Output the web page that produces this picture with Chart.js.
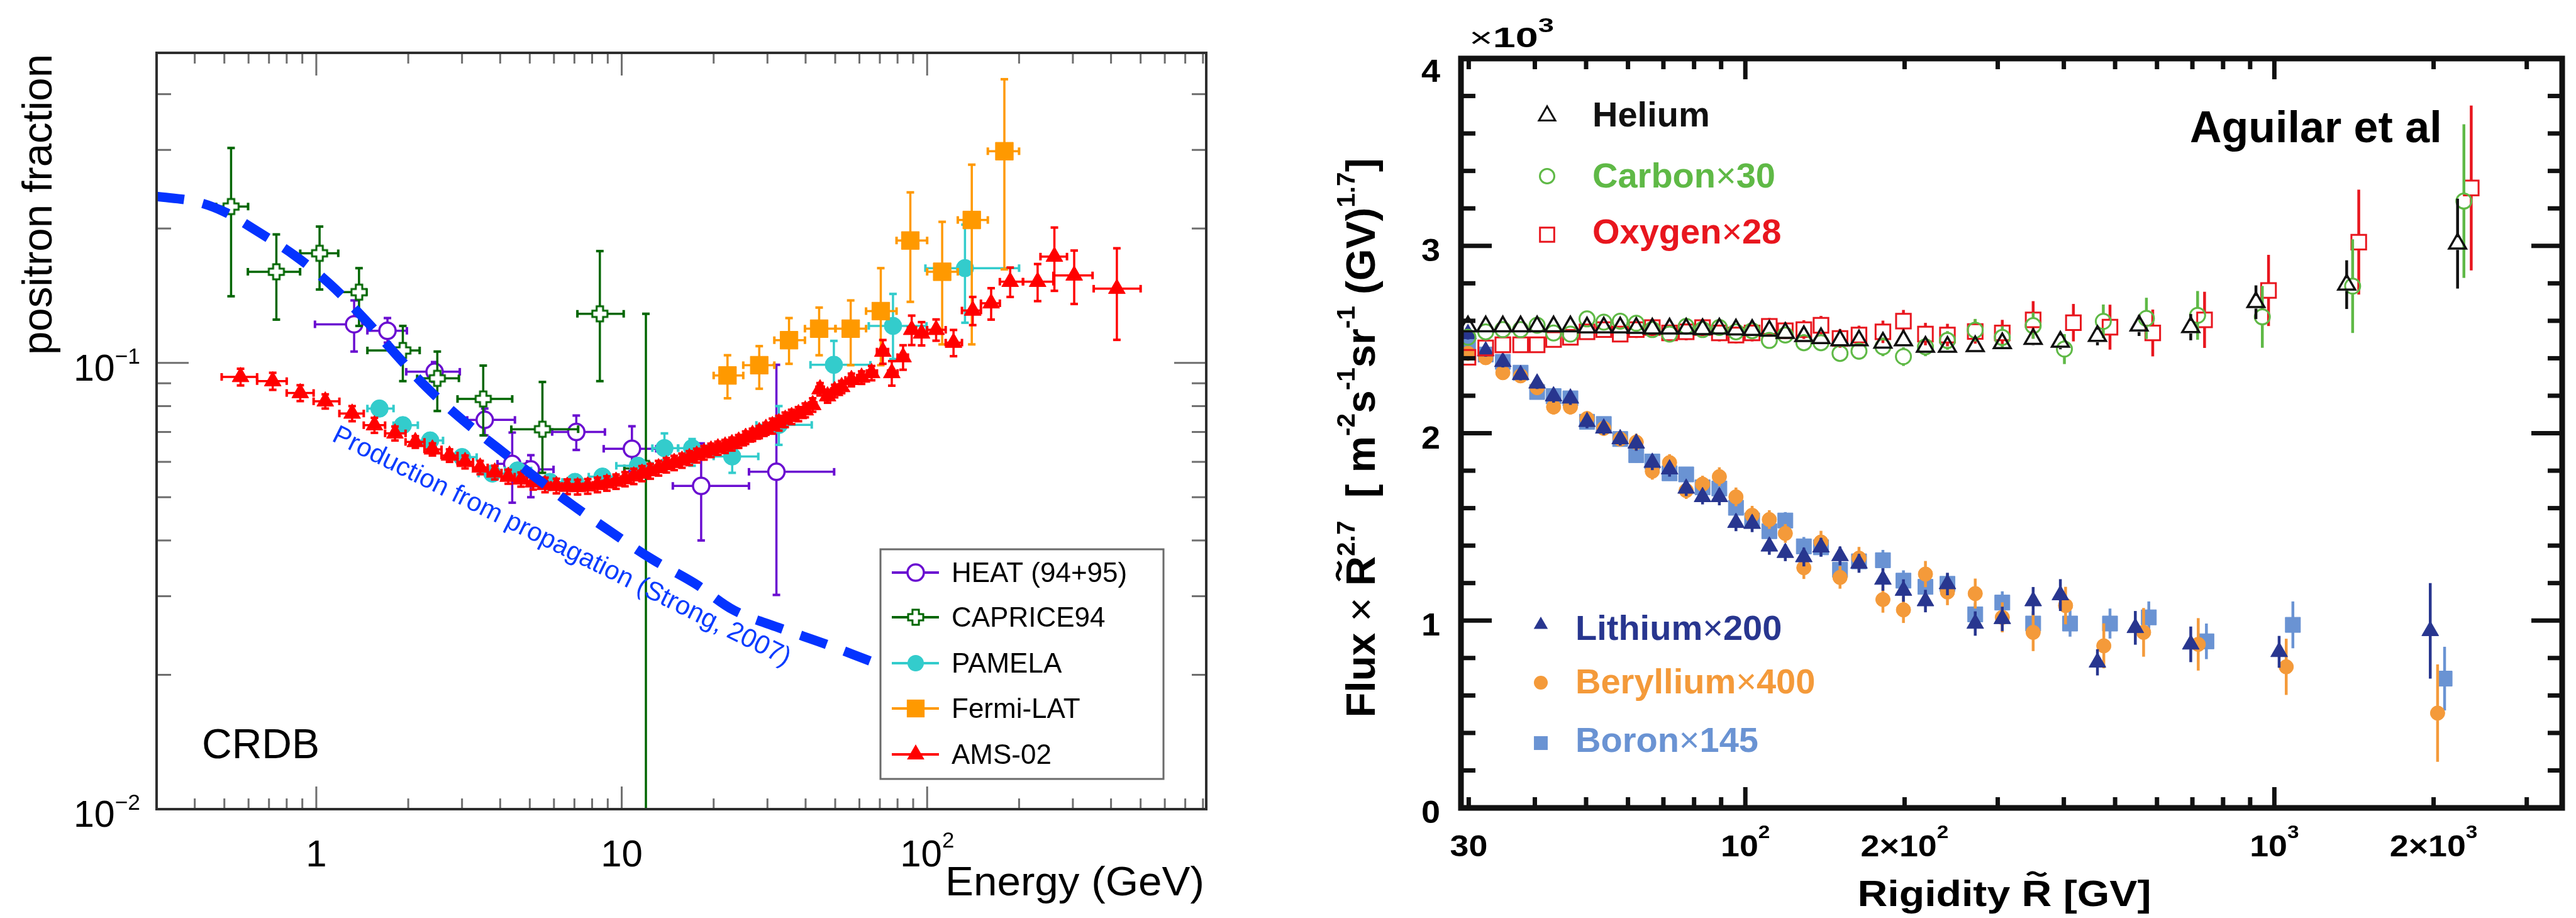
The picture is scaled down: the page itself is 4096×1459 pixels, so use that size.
<!DOCTYPE html>
<html>
<head>
<meta charset="utf-8">
<title>Positron fraction and AMS secondary/primary nuclei</title>
<script src="https://cdn.jsdelivr.net/npm/chart.js@4.4.1/dist/chart.umd.min.js"></script>
<style>
  html, body { margin: 0; padding: 0; background: #fff; }
  #wrap { position: relative; width: 4096px; height: 1459px; overflow: hidden; background: #fff; }
  #wrap canvas { position: absolute; top: 0; }
  #left { left: 0; }
  #right { left: 2048px; }
</style>
</head>
<body>
<div id="wrap">
  <canvas id="left" width="2048" height="1459"></canvas>
  <canvas id="right" width="2048" height="1459"></canvas>
</div>
<script>
// ---------- left panel: positron fraction ----------
const heatX = [1.33, 1.71, 2.44, 3.56, 4.38, 5.04, 7.1, 10.8, 18.2, 32.1];
const heatY = [0.122, 0.118, 0.0955, 0.0745, 0.0594, 0.0577, 0.070, 0.0642, 0.053, 0.057];
const heatXLo = [0.99, 1.47, 1.97, 3.12, 3.92, 4.73, 5.92, 8.73, 14.7, 26.1];
const heatXHi = [1.47, 1.98, 2.95, 4.47, 4.9, 5.98, 8.81, 12.97, 26.1, 49.6];
const heatYLo = [0.106, 0.111, 0.0907, 0.0688, 0.0486, 0.050, 0.0638, 0.0572, 0.040, 0.0302];
const heatYHi = [0.138, 0.126, 0.1004, 0.079, 0.0698, 0.0621, 0.0762, 0.0721, 0.066, 0.099];

const capX = [0.526, 0.74, 1.025, 1.38, 1.92, 2.49, 3.52, 5.5, 8.48, 12.0];
const capY = [0.224, 0.160, 0.176, 0.144, 0.1066, 0.0923, 0.083, 0.071, 0.1288, 0.058];
const capXLo = [0.47, 0.597, 0.886, 1.18, 1.47, 2.14, 2.9, 4.35, 7.16, 10.2];
const capXHi = [0.598, 0.885, 1.18, 1.46, 2.18, 2.93, 4.38, 7.2, 10.15, 14.0];
const capYLo = [0.141, 0.125, 0.146, 0.121, 0.091, 0.078, 0.0688, 0.0567, 0.091, 0.005];
const capYHi = [0.303, 0.194, 0.202, 0.163, 0.121, 0.106, 0.0986, 0.0906, 0.178, 0.1288];

const pamX = [1.61, 1.92, 2.36, 3.0, 3.77, 4.56, 5.82, 7.03, 8.65, 11.3, 13.8, 17.0, 23.0, 32.7, 49.5, 77.3, 133];
const pamY = [0.079, 0.0725, 0.067, 0.0615, 0.0565, 0.0574, 0.0541, 0.0541, 0.0556, 0.0588, 0.0644, 0.0644, 0.0617, 0.0726, 0.099, 0.121, 0.163];
const pamXLo = [1.47, 1.79, 2.15, 2.7, 3.4, 4.15, 5.1, 6.4, 7.8, 9.6, 12.6, 15.3, 20.0, 27.6, 41.5, 64.4, 98.7];
const pamXHi = [1.79, 2.15, 2.6, 3.35, 4.15, 5.05, 6.4, 7.8, 9.6, 12.6, 15.3, 19.0, 28.0, 41.9, 65.2, 99.5, 200];
const pamYLo = [0.077, 0.0705, 0.065, 0.0597, 0.0548, 0.0555, 0.0522, 0.0522, 0.0535, 0.0567, 0.0605, 0.0588, 0.0567, 0.0655, 0.0873, 0.102, 0.123];
const pamYHi = [0.081, 0.0745, 0.069, 0.0633, 0.0582, 0.0593, 0.056, 0.056, 0.0577, 0.0605, 0.0695, 0.0675, 0.067, 0.080, 0.112, 0.1427, 0.204];

const fermiX = [22.2, 28.2, 35.3, 44.3, 56.2, 70.5, 88.1, 112, 140, 179];
const fermiY = [0.0937, 0.0988, 0.1124, 0.1193, 0.1193, 0.1306, 0.188, 0.160, 0.209, 0.298];
const fermiXLo = [20, 25, 31.6, 39.8, 50.1, 63.1, 79.4, 100, 126, 158];
const fermiXHi = [25, 31.6, 39.8, 50.1, 63.1, 79.4, 100, 126, 158, 200];
const fermiYLo = [0.0833, 0.0875, 0.0995, 0.104, 0.0988, 0.0988, 0.137, 0.110, 0.110, 0.162];
const fermiYHi = [0.104, 0.109, 0.126, 0.133, 0.138, 0.163, 0.241, 0.207, 0.278, 0.432];

const amsX = [0.565, 0.72, 0.886, 1.07, 1.31, 1.55, 1.81, 2.11, 2.40, 2.73, 3.07, 3.44, 3.84, 4.25, 4.68, 5.13, 5.61, 6.11, 6.63, 7.17,
  7.74, 8.33, 8.94, 9.58, 10.25, 10.95, 11.65, 12.4, 13.2, 14.0, 14.85, 15.75, 16.65, 17.6, 18.6, 19.6, 20.65, 21.8, 22.95, 24.15,
  25.45, 26.8, 28.2, 29.65, 31.15, 32.7, 34.3, 36.0, 37.9, 39.9, 42.2, 44.6, 47.2, 49.8, 52.5, 56.5, 61.0, 65.8, 71.6, 76.6,
  83.4, 89, 95.9, 107, 122, 141, 162, 187, 230, 261, 303, 418];
const amsY = [0.093, 0.091, 0.0856, 0.082, 0.077, 0.0725, 0.0695, 0.0665, 0.064, 0.062, 0.060, 0.0583, 0.0568, 0.0556, 0.0548, 0.054, 0.0533, 0.053, 0.0528, 0.0527,
  0.0529, 0.0533, 0.0537, 0.0542, 0.0549, 0.0557, 0.0565, 0.0572, 0.0581, 0.059, 0.0597, 0.0604, 0.0612, 0.062, 0.0629, 0.0637, 0.0644, 0.065, 0.0658, 0.0667,
  0.068, 0.069, 0.070, 0.0712, 0.0722, 0.0733, 0.0746, 0.0757, 0.0768, 0.0783, 0.0805, 0.0873, 0.0842, 0.0865, 0.0883, 0.0916, 0.0927, 0.0949, 0.106, 0.0949,
  0.103, 0.1186, 0.1164, 0.1186, 0.111, 0.131, 0.136, 0.152, 0.152, 0.173, 0.157, 0.1466];
const amsXLo = [0.49, 0.64, 0.80, 0.98, 1.19, 1.43, 1.68, 1.96, 2.26, 2.57, 2.90, 3.26, 3.64, 4.04, 4.46, 4.90, 5.37, 5.86, 6.37, 6.90,
  7.45, 8.03, 8.63, 9.26, 9.91, 10.6, 11.3, 12.0, 12.8, 13.6, 14.4, 15.3, 16.2, 17.1, 18.1, 19.1, 20.1, 21.2, 22.4, 23.5,
  24.8, 26.1, 27.5, 28.9, 30.4, 31.9, 33.5, 35.1, 36.9, 38.9, 41.0, 43.4, 45.9, 48.5, 51.1, 54.0, 59.0, 63.5, 68.5, 74.5,
  80.0, 86.5, 92.0, 100, 115, 130, 150, 173, 206, 235, 259, 351];
const amsXHi = [0.64, 0.80, 0.98, 1.19, 1.43, 1.68, 1.96, 2.26, 2.57, 2.90, 3.26, 3.64, 4.04, 4.46, 4.90, 5.37, 5.86, 6.37, 6.90, 7.45,
  8.03, 8.63, 9.26, 9.91, 10.6, 11.3, 12.0, 12.8, 13.6, 14.4, 15.3, 16.2, 17.1, 18.1, 19.1, 20.1, 21.2, 22.4, 23.5, 24.8,
  26.1, 27.5, 28.9, 30.4, 31.9, 33.5, 35.1, 36.9, 38.9, 41.0, 43.4, 45.9, 48.5, 51.1, 54.0, 59.0, 63.5, 68.5, 74.5, 80.0,
  86.5, 92.0, 100, 115, 130, 150, 173, 206, 259, 287, 348, 500];
const amsYErr = [0.004, 0.004, 0.0035, 0.003, 0.003, 0.0028, 0.0025,
  0.002, 0.002, 0.002, 0.002, 0.002, 0.002, 0.002, 0.002, 0.002, 0.002, 0.002, 0.002, 0.002, 0.002, 0.002, 0.002, 0.002, 0.002,
  0.0022, 0.0022, 0.0022, 0.0022, 0.0022, 0.0022, 0.0022, 0.0022, 0.0022, 0.0022, 0.0022, 0.0022, 0.0022, 0.0022, 0.0022, 0.0022, 0.0022, 0.0022, 0.0022,
  0.0028, 0.0028, 0.0028, 0.0028, 0.0028, 0.0028, 0.0028, 0.0028, 0.0028, 0.0028, 0.0028,
  0.003, 0.003, 0.0035, 0.0065, 0.006, 0.0065, 0.009, 0.007, 0.0065, 0.0075, 0.0095, 0.011, 0.0115, 0.0145, 0.028, 0.0215, 0.034];

// propagation model (Strong, 2007)
const curveX = [0.3, 0.4, 0.5, 0.62, 0.85, 1.11, 1.46, 1.81, 2.29, 2.97, 3.92, 5.2, 6.9, 9.23, 12.5, 17.4, 23.3, 32.7, 46.8, 69.5];
const curveY = [0.236, 0.23, 0.218, 0.20, 0.174, 0.150, 0.124, 0.105, 0.0883, 0.0751, 0.0645, 0.0555, 0.048, 0.0418, 0.0364, 0.032, 0.0279, 0.0255, 0.0234, 0.0211];

const energyTicks = [1, 10, 100];
const energyTickText = ['1', '10', '10^2'];
const fracTicks = [0.01, 0.1];
const fracTickText = ['10^-2', '10^-1'];

// ---------- right panel: AMS fluxes x R^2.7 (x10^3) ----------
const rigBins = [29.9, 32.3, 34.8, 37.6, 40.4, 43.4, 46.7, 50.2, 54.0, 58.0, 62.2, 66.7, 71.9, 77.3, 83.0, 89.3, 96.0, 103, 111, 119,
  129, 139, 151, 164, 182, 199, 219, 241];

const heX = rigBins.concat([272, 306, 350, 394, 463, 555, 695, 923, 1370, 2220]);
const heY = [2.570, 2.570, 2.570, 2.570, 2.570, 2.570, 2.570, 2.564, 2.564, 2.564, 2.562, 2.558, 2.558, 2.558, 2.555, 2.558, 2.553, 2.551, 2.547, 2.535,
  2.518, 2.507, 2.495, 2.495, 2.483, 2.495, 2.461, 2.461, 2.464, 2.480, 2.503, 2.488, 2.519, 2.574, 2.566, 2.699, 2.793, 3.012];
const heErr = [0.015, 0.015, 0.015, 0.015, 0.015, 0.015, 0.015, 0.015, 0.015, 0.015, 0.015, 0.015, 0.015, 0.015, 0.015, 0.015, 0.015, 0.015, 0.015, 0.015,
  0.018, 0.018, 0.02, 0.02, 0.022, 0.022, 0.025, 0.025, 0.028, 0.03, 0.035, 0.04, 0.05, 0.055, 0.07, 0.09, 0.13, 0.24];

const cX = rigBins.concat([272, 306, 350, 401, 475, 573, 716, 949, 1406, 2282]);
const cY = [2.512, 2.541, 2.553, 2.553, 2.576, 2.535, 2.529, 2.610, 2.593, 2.598, 2.587, 2.553, 2.529, 2.570, 2.553, 2.564, 2.541, 2.547, 2.495, 2.524,
  2.483, 2.483, 2.426, 2.438, 2.461, 2.409, 2.461, 2.495, 2.550, 2.511, 2.574, 2.449, 2.597, 2.613, 2.629, 2.621, 2.785, 3.239];
const cErr = [0.035, 0.035, 0.035, 0.035, 0.035, 0.035, 0.035, 0.035, 0.035, 0.035, 0.04, 0.04, 0.04, 0.04, 0.04, 0.04, 0.04, 0.04, 0.04, 0.04,
  0.045, 0.045, 0.045, 0.045, 0.05, 0.05, 0.05, 0.05, 0.06, 0.06, 0.07, 0.08, 0.09, 0.11, 0.13, 0.165, 0.25, 0.41];

const oX = rigBins.concat([272, 306, 350, 417, 489, 589, 738, 975, 1444, 2356]);
const oY = [2.405, 2.455, 2.472, 2.472, 2.472, 2.500, 2.512, 2.541, 2.553, 2.529, 2.553, 2.564, 2.535, 2.541, 2.564, 2.535, 2.524, 2.535, 2.570, 2.547,
  2.553, 2.576, 2.506, 2.524, 2.541, 2.598, 2.529, 2.524, 2.543, 2.535, 2.605, 2.590, 2.566, 2.535, 2.605, 2.762, 3.020, 3.309];
const oErr = [0.04, 0.04, 0.04, 0.04, 0.04, 0.04, 0.04, 0.04, 0.04, 0.04, 0.045, 0.045, 0.045, 0.045, 0.045, 0.045, 0.045, 0.045, 0.045, 0.045,
  0.05, 0.05, 0.05, 0.05, 0.06, 0.06, 0.06, 0.06, 0.065, 0.07, 0.1, 0.1, 0.12, 0.125, 0.15, 0.19, 0.28, 0.44];

const liX = rigBins.concat([272, 306, 350, 394, 463, 546, 695, 1021, 1971]);
const liY = [2.530, 2.438, 2.381, 2.312, 2.266, 2.198, 2.186, 2.061, 2.026, 1.969, 1.946, 1.843, 1.808, 1.705, 1.660, 1.660, 1.522, 1.517, 1.396, 1.362,
  1.339, 1.391, 1.345, 1.305, 1.219, 1.160, 1.104, 1.195, 0.984, 1.009, 1.104, 1.136, 0.777, 0.961, 0.873, 0.833, 0.945];
const liErr = [0.03, 0.03, 0.03, 0.03, 0.03, 0.035, 0.035, 0.035, 0.035, 0.035, 0.04, 0.04, 0.04, 0.04, 0.04, 0.045, 0.045, 0.045, 0.045, 0.045,
  0.05, 0.05, 0.05, 0.05, 0.06, 0.06, 0.06, 0.06, 0.065, 0.065, 0.075, 0.085, 0.07, 0.09, 0.095, 0.085, 0.255];

const beX = rigBins.concat([272, 306, 350, 403, 476, 566, 718, 1053, 2035]);
const beY = [2.426, 2.403, 2.323, 2.306, 2.243, 2.140, 2.140, 2.078, 2.026, 1.969, 1.952, 1.797, 1.843, 1.694, 1.728, 1.768, 1.660, 1.562, 1.539, 1.465,
  1.282, 1.419, 1.230, 1.333, 1.112, 1.057, 1.248, 1.152, 1.144, 1.017, 0.937, 1.080, 0.865, 0.937, 0.873, 0.753, 0.506];
const beErr = [0.035, 0.035, 0.035, 0.035, 0.035, 0.04, 0.04, 0.04, 0.04, 0.04, 0.045, 0.045, 0.045, 0.045, 0.045, 0.05, 0.05, 0.05, 0.05, 0.05,
  0.06, 0.06, 0.06, 0.06, 0.07, 0.07, 0.07, 0.07, 0.08, 0.08, 0.1, 0.1, 0.12, 0.13, 0.14, 0.15, 0.26];

const bX = rigBins.concat([272, 306, 350, 411, 489, 579, 744, 1084, 2098]);
const bY = [2.472, 2.420, 2.381, 2.323, 2.220, 2.198, 2.186, 2.061, 2.049, 1.969, 1.883, 1.849, 1.786, 1.780, 1.711, 1.705, 1.602, 1.534, 1.477, 1.534,
  1.396, 1.391, 1.271, 1.316, 1.322, 1.213, 1.180, 1.196, 1.033, 1.096, 0.984, 0.984, 0.984, 1.017, 0.889, 0.977, 0.690];
const bErr = [0.03, 0.03, 0.03, 0.03, 0.03, 0.035, 0.035, 0.035, 0.035, 0.035, 0.04, 0.04, 0.04, 0.04, 0.04, 0.045, 0.045, 0.045, 0.045, 0.045,
  0.05, 0.05, 0.05, 0.05, 0.055, 0.055, 0.055, 0.055, 0.06, 0.06, 0.065, 0.07, 0.08, 0.085, 0.095, 0.125, 0.17];

const rigTicks = [30, 100, 200, 1000, 2000];
const rigTickText = ['30', '10^2', '2×10^2', '10^3', '2×10^3'];
const fluxTicks = [0, 1, 2, 3, 4];
const fluxTickText = ['0', '1', '2', '3', '4'];

// ---------- helpers ----------
const FONT = '"Liberation Sans", Arial, Helvetica, sans-serif';

function pts(xs, ys, xl, xh, yl, yh) {
  return xs.map((x, i) => ({ x, y: ys[i], xl: xl ? xl[i] : null, xh: xh ? xh[i] : null, yl: yl ? yl[i] : null, yh: yh ? yh[i] : null }));
}
function ptsSym(xs, ys, err, xl, xh) {
  return xs.map((x, i) => ({ x, y: ys[i], xl: xl ? xl[i] : null, xh: xh ? xh[i] : null, yl: ys[i] - err[i], yh: ys[i] + err[i] }));
}

function parseLabel(s) {
  const i = s.indexOf('^');
  if (i < 0) return [s];
  return [s.slice(0, i), { t: s.slice(i + 1).replace('-', '\u2212'), sup: true }];
}

// text with superscripts / tilde accents, optionally rotated and stretched
function rich(ctx, parts, x, y, o) {
  const size = o.size, weight = o.weight || 'normal';
  const supK = o.supScale || 0.6, raise = o.supRaise || 0.45;
  const segs = parts.map(p => (typeof p === 'string' ? { t: p } : Object.assign({}, p)));
  const fontOf = s => `${s.w || weight} ${(s.sup ? size * supK : size).toFixed(1)}px ${FONT}`;
  ctx.save();
  let total = 0;
  segs.forEach(s => { ctx.font = fontOf(s); s.width = ctx.measureText(s.t).width; total += s.width; });
  ctx.translate(x, y);
  if (o.rot) ctx.rotate(o.rot);
  const sx = o.fitW ? o.fitW / total : (o.sx || 1);
  ctx.scale(sx, o.sy || 1);
  let cx = o.align === 'center' ? -total / 2 : o.align === 'right' ? -total : 0;
  ctx.fillStyle = o.color || '#000';
  ctx.strokeStyle = o.color || '#000';
  ctx.textAlign = 'left';
  ctx.textBaseline = 'alphabetic';
  segs.forEach(s => {
    ctx.font = fontOf(s);
    ctx.fillText(s.t, cx, s.sup ? -size * raise : 0);
    if (s.tilde) {
      const tw = s.width * 0.62, x0 = cx + (s.width - tw) / 2, ty = -size * 0.88, a = size * 0.05;
      ctx.lineWidth = size * 0.075;
      ctx.beginPath();
      ctx.moveTo(x0, ty + a * 0.6);
      ctx.quadraticCurveTo(x0 + tw * 0.25, ty - a * 1.8, x0 + tw * 0.5, ty);
      ctx.quadraticCurveTo(x0 + tw * 0.75, ty + a * 1.8, x0 + tw, ty - a * 0.6);
      ctx.stroke();
    }
    cx += s.width;
  });
  ctx.restore();
}

function seg(ctx, x1, y1, x2, y2) {
  ctx.beginPath(); ctx.moveTo(x1, y1); ctx.lineTo(x2, y2); ctx.stroke();
}

function logTicks(min, max) {
  const out = [];
  for (let e = Math.floor(Math.log10(min)); e <= Math.ceil(Math.log10(max)); e++) {
    for (let k = 1; k <= 9; k++) {
      const v = k * Math.pow(10, e);
      if (v > min * 1.001 && v < max * 0.999) out.push({ v, major: k === 1 });
    }
  }
  return out;
}

function crossMarker(size, color, lw) {
  const c = document.createElement('canvas');
  c.width = c.height = size;
  const g = c.getContext('2d');
  const a = size / 2, t = size * 0.17, m = size / 2 - lw;
  g.beginPath();
  g.moveTo(a - t, a - m); g.lineTo(a + t, a - m); g.lineTo(a + t, a - t); g.lineTo(a + m, a - t);
  g.lineTo(a + m, a + t); g.lineTo(a + t, a + t); g.lineTo(a + t, a + m); g.lineTo(a - t, a + m);
  g.lineTo(a - t, a + t); g.lineTo(a - m, a + t); g.lineTo(a - m, a - t); g.lineTo(a - t, a - t);
  g.closePath();
  g.fillStyle = '#fff'; g.fill();
  g.strokeStyle = color; g.lineWidth = lw; g.stroke();
  return c;
}

function drawMarker(ctx, style, x, y, r, fill, stroke, lw) {
  if (typeof style === 'object') { ctx.drawImage(style, x - style.width / 2, y - style.height / 2); return; }
  ctx.beginPath();
  if (style === 'circle') ctx.arc(x, y, r, 0, Math.PI * 2);
  else if (style === 'triangle') { ctx.moveTo(x, y - r); ctx.lineTo(x + r * 0.866, y + r * 0.5); ctx.lineTo(x - r * 0.866, y + r * 0.5); ctx.closePath(); }
  else if (style === 'rect') { const s = r * Math.SQRT1_2; ctx.rect(x - s, y - s, 2 * s, 2 * s); }
  if (fill) { ctx.fillStyle = fill; ctx.fill(); }
  if (stroke && lw) { ctx.strokeStyle = stroke; ctx.lineWidth = lw; ctx.stroke(); }
}

// error bars drawn just before each dataset's markers
const errorBars = {
  id: 'errorBars',
  beforeDatasetDraw(chart, args) {
    const ds = chart.data.datasets[args.index];
    if (!ds.err) return;
    const { ctx, chartArea: a } = chart;
    const xs = chart.scales.x, ys = chart.scales.y, e = ds.err;
    ctx.save();
    ctx.beginPath(); ctx.rect(a.left, a.top, a.right - a.left, a.bottom - a.top); ctx.clip();
    ctx.strokeStyle = e.color; ctx.lineCap = 'butt';
    ds.data.forEach(p => {
      const px = xs.getPixelForValue(p.x), py = ys.getPixelForValue(p.y);
      const g = e.gap || 0, c = e.cap || 0;
      ctx.lineWidth = e.width;
      if (p.xl != null) {
        const l = xs.getPixelForValue(p.xl), r = xs.getPixelForValue(p.xh);
        if (l < px - g) seg(ctx, l, py, px - g, py);
        if (r > px + g) seg(ctx, px + g, py, r, py);
        if (c) { ctx.lineWidth = e.capWidth; seg(ctx, l, py - c, l, py + c); seg(ctx, r, py - c, r, py + c); ctx.lineWidth = e.width; }
      }
      if (p.yl != null) {
        const t = ys.getPixelForValue(p.yh), b = ys.getPixelForValue(p.yl);
        if (t < py - g) seg(ctx, px, t, px, py - g);
        if (b > py + g) seg(ctx, px, py + g, px, b);
        if (c) { ctx.lineWidth = e.capWidth; seg(ctx, px - c, t, px + c, t); seg(ctx, px - c, b, px + c, b); }
      }
    });
    ctx.restore();
  }
};

// ---------- left chart ----------
const C_HEAT = '#6a0dd1', C_CAP = '#006600', C_PAM = '#33cccc', C_FERMI = '#ff9900', C_AMS = '#ff0000', C_CURVE = '#0433ff';
const capMarker = crossMarker(30, C_CAP, 3);
const curveLabel = 'Production from propagation (Strong, 2007)';
const curveLabelFrom = [1.116, 0.067];
const curveLabelTo = [34.4, 0.0209];

const leftSets = [
  { type: 'line', label: curveLabel, data: pts(curveX, curveY), borderColor: C_CURVE, borderWidth: 15,
    borderDash: [44, 30], borderCapStyle: 'butt', pointRadius: 0, tension: 0.35, fill: false },
  { label: 'AMS-02', data: ptsSym(amsX, amsY, amsYErr, amsXLo, amsXHi), pointStyle: 'triangle', pointRadius: 15.5,
    backgroundColor: C_AMS, borderColor: C_AMS, borderWidth: 1, err: { color: C_AMS, width: 3.5, cap: 6, capWidth: 4 } },
  { label: 'Fermi-LAT', data: pts(fermiX, fermiY, fermiXLo, fermiXHi, fermiYLo, fermiYHi), pointStyle: 'rect', pointRadius: 20,
    backgroundColor: C_FERMI, borderColor: C_FERMI, borderWidth: 1, err: { color: C_FERMI, width: 3.5, cap: 6, capWidth: 4 } },
  { label: 'PAMELA', data: pts(pamX, pamY, pamXLo, pamXHi, pamYLo, pamYHi), pointStyle: 'circle', pointRadius: 14,
    backgroundColor: C_PAM, borderColor: C_PAM, borderWidth: 1, err: { color: C_PAM, width: 3.5, cap: 6, capWidth: 4 } },
  { label: 'CAPRICE94', data: pts(capX, capY, capXLo, capXHi, capYLo, capYHi), pointStyle: capMarker, pointRadius: 14,
    backgroundColor: '#fff', borderColor: C_CAP, borderWidth: 0, err: { color: C_CAP, width: 3.5, cap: 6, capWidth: 4 } },
  { label: 'HEAT (94+95)', data: pts(heatX, heatY, heatXLo, heatXHi, heatYLo, heatYHi), pointStyle: 'circle', pointRadius: 13,
    backgroundColor: '#fff', borderColor: C_HEAT, borderWidth: 3.5, err: { color: C_HEAT, width: 3.5, cap: 6, capWidth: 4 } }
];

const leftLegend = [
  { name: 'HEAT (94+95)', style: 'circle', r: 13, fill: '#fff', stroke: C_HEAT, lw: 3.5, color: C_HEAT },
  { name: 'CAPRICE94', style: capMarker, color: C_CAP },
  { name: 'PAMELA', style: 'circle', r: 13, fill: C_PAM, color: C_PAM },
  { name: 'Fermi-LAT', style: 'rect', r: 20, fill: C_FERMI, color: C_FERMI },
  { name: 'AMS-02', style: 'triangle', r: 16, fill: C_AMS, color: C_AMS }
];

const leftDecor = {
  id: 'leftDecor',
  afterDatasetsDraw(chart) {
    const { ctx, scales: { x, y } } = chart;
    const x1 = x.getPixelForValue(curveLabelFrom[0]), y1 = y.getPixelForValue(curveLabelFrom[1]);
    const x2 = x.getPixelForValue(curveLabelTo[0]), y2 = y.getPixelForValue(curveLabelTo[1]);
    rich(ctx, [curveLabel], x1, y1, { size: 42, color: '#0a3cff', rot: Math.atan2(y2 - y1, x2 - x1), fitW: Math.hypot(x2 - x1, y2 - y1) });
  },
  afterDraw(chart) {
    const { ctx, chartArea: a, scales: { x, y } } = chart;
    ctx.save();
    ctx.lineCap = 'butt';
    ctx.strokeStyle = '#6e6e6e';
    ctx.lineWidth = 3;
    logTicks(x.min, x.max).forEach(t => {
      const px = x.getPixelForValue(t.v), L = t.major ? 36 : 17;
      seg(ctx, px, a.bottom, px, a.bottom - L);
      seg(ctx, px, a.top, px, a.top + L);
    });
    logTicks(y.min, y.max).forEach(t => {
      const py = y.getPixelForValue(t.v), L = t.major ? 51 : 23;
      seg(ctx, a.left, py, a.left + L, py);
      seg(ctx, a.right, py, a.right - L, py);
    });
    ctx.strokeStyle = '#2e2e2e';
    ctx.lineWidth = 4;
    ctx.strokeRect(a.left, a.top, a.right - a.left, a.bottom - a.top);

    energyTicks.forEach((v, i) => {
      rich(ctx, parseLabel(energyTickText[i]), x.getPixelForValue(v), a.bottom + 91,
        { size: 60, align: 'center', supScale: 0.58, supRaise: 0.5, color: '#000' });
    });
    fracTicks.forEach((v, i) => {
      rich(ctx, parseLabel(fracTickText[i]), a.left - 26, y.getPixelForValue(v) + 28,
        { size: 59, align: 'right', supScale: 0.6, supRaise: 0.45, color: '#000' });
    });
    rich(ctx, ['positron fraction'], 82, a.top + 2, { size: 66, align: 'right', rot: -Math.PI / 2, fitW: 478 });
    rich(ctx, ['Energy (GeV)'], 1915, 1423, { size: 64, align: 'right', fitW: 412 });
    rich(ctx, ['CRDB'], 321, 1205, { size: 66 });

    // legend box
    const bx = 1400, by = 873, bw = 450, bh = 365;
    ctx.fillStyle = '#fff';
    ctx.fillRect(bx, by, bw, bh);
    ctx.strokeStyle = '#6a6a6a';
    ctx.lineWidth = 3;
    ctx.strokeRect(bx, by, bw, bh);
    const rows = [910, 981, 1054, 1126, 1199];
    leftLegend.forEach((it, i) => {
      const ry = rows[i];
      ctx.strokeStyle = it.color;
      ctx.lineWidth = 4;
      seg(ctx, 1418, ry, 1493, ry);
      drawMarker(ctx, it.style, 1456, ry, it.r, it.fill, it.stroke, it.lw);
      rich(ctx, [it.name], 1513, ry + 15, { size: 44 });
    });
    ctx.restore();
  }
};

new Chart(document.getElementById('left'), {
  type: 'scatter',
  data: { datasets: leftSets },
  options: {
    responsive: false,
    animation: false,
    devicePixelRatio: 1,
    events: [],
    layout: { padding: { left: 249, right: 130, top: 84, bottom: 173 } },
    plugins: { legend: { display: false }, tooltip: { enabled: false } },
    scales: {
      x: { type: 'logarithmic', min: 0.3, max: 820, display: false },
      y: { type: 'logarithmic', min: 0.01, max: 0.495, display: false }
    }
  },
  plugins: [errorBars, leftDecor]
});

// ---------- right chart ----------
const C_HE = '#111111', C_C = '#5fb946', C_O = '#e8161e', C_LI = '#28368f', C_BE = '#f49a3a', C_B = '#6a93d3';
const NONE = 'rgba(0,0,0,0)';

const rightSets = [
  { label: 'Helium', data: ptsSym(heX, heY, heErr), pointStyle: 'triangle', pointRadius: 15.5, backgroundColor: NONE,
    borderColor: C_HE, borderWidth: 3.5, err: { color: C_HE, width: 4.5, gap: 10 } },
  { label: 'Carbon×30', data: ptsSym(cX, cY, cErr), pointStyle: 'circle', pointRadius: 12, backgroundColor: NONE,
    borderColor: C_C, borderWidth: 3, err: { color: C_C, width: 4.5, gap: 11 } },
  { label: 'Oxygen×28', data: ptsSym(oX, oY, oErr), pointStyle: 'rect', pointRadius: 16.5, backgroundColor: NONE,
    borderColor: C_O, borderWidth: 3, err: { color: C_O, width: 4.5, gap: 11 } },
  { label: 'Lithium×200', data: ptsSym(liX, liY, liErr), pointStyle: 'triangle', pointRadius: 15.5, backgroundColor: C_LI,
    borderColor: C_LI, borderWidth: 1, err: { color: C_LI, width: 4.5 } },
  { label: 'Beryllium×400', data: ptsSym(beX, beY, beErr), pointStyle: 'circle', pointRadius: 11.5, backgroundColor: C_BE,
    borderColor: C_BE, borderWidth: 1, err: { color: C_BE, width: 4.5 } },
  { label: 'Boron×145', data: ptsSym(bX, bY, bErr), pointStyle: 'rect', pointRadius: 17, backgroundColor: C_B,
    borderColor: C_B, borderWidth: 1, err: { color: C_B, width: 4.5 } }
];

const rightLegend = [
  { parts: ['Helium'], color: C_HE, style: 'triangle', r: 15, fill: null, stroke: C_HE, lw: 3, mx: 412, my: 184, tx: 484, ty: 201 },
  { parts: ['Carbon', { t: '×', w: 'normal' }, '30'], color: C_C, style: 'circle', r: 11.5, fill: null, stroke: C_C, lw: 3, mx: 412, my: 280, tx: 484, ty: 298 },
  { parts: ['Oxygen', { t: '×', w: 'normal' }, '28'], color: C_O, style: 'rect', r: 16, fill: null, stroke: C_O, lw: 3, mx: 412, my: 373, tx: 484, ty: 387 },
  { parts: ['Lithium', { t: '×', w: 'normal' }, '200'], color: C_LI, style: 'triangle', r: 13, fill: C_LI, mx: 402, my: 993, tx: 457, ty: 1017 },
  { parts: ['Beryllium', { t: '×', w: 'normal' }, '400'], color: C_BE, style: 'circle', r: 11, fill: C_BE, mx: 402, my: 1085, tx: 457, ty: 1102 },
  { parts: ['Boron', { t: '×', w: 'normal' }, '145'], color: C_B, style: 'rect', r: 15.5, fill: C_B, mx: 402, my: 1181, tx: 457, ty: 1195 }
];

const rightDecor = {
  id: 'rightDecor',
  afterDraw(chart) {
    const { ctx, chartArea: a, scales: { x, y } } = chart;
    ctx.save();
    ctx.lineCap = 'butt';
    ctx.strokeStyle = '#111';
    ctx.lineWidth = 7;
    logTicks(x.min, x.max).forEach(t => {
      const px = x.getPixelForValue(t.v), L = t.major ? 33 : 17;
      seg(ctx, px, a.bottom, px, a.bottom - L);
      seg(ctx, px, a.top, px, a.top + L);
    });
    for (let i = 1; i < 20; i++) {
      const v = i * 0.2, py = y.getPixelForValue(v), L = i % 5 === 0 ? 49 : 23;
      seg(ctx, a.left, py, a.left + L, py);
      seg(ctx, a.right, py, a.right - L, py);
    }
    ctx.lineWidth = 9;
    ctx.lineJoin = 'miter';
    ctx.strokeRect(a.left, a.top, a.right - a.left, a.bottom - a.top);

    rigTicks.forEach((v, i) => {
      rich(ctx, parseLabel(rigTickText[i]), x.getPixelForValue(v), 1361,
        { size: 48, weight: 'bold', align: 'center', sx: 1.12, supScale: 0.62, supRaise: 0.6 });
    });
    fluxTicks.forEach((v, i) => {
      const base = Math.max(y.getPixelForValue(v) + 24, a.top + 37);
      rich(ctx, [fluxTickText[i]], a.left - 33, base, { size: 50, weight: 'bold', align: 'right', sx: 1.08 });
    });
    rich(ctx, [{ t: '×', w: 'normal' }, '10', { t: '3', sup: true }], 288, 75,
      { size: 44, weight: 'bold', fitW: 135, supScale: 0.7, supRaise: 0.55 });
    rich(ctx, ['Aguilar et al'], 1434, 226, { size: 70, weight: 'bold' });
    rich(ctx, ['Rigidity ', { t: 'R', tilde: true }, ' [GV]'], 1139, 1440,
      { size: 58, weight: 'bold', align: 'center', fitW: 467 });
    rich(ctx, ['Flux ', { t: '×', w: 'normal' }, ' ', { t: 'R', tilde: true }, { t: '2.7', sup: true }, '  [ m', { t: '-2', sup: true },
      's', { t: '-1', sup: true }, 'sr', { t: '-1', sup: true }, ' (GV)', { t: '1.7', sup: true }, ']'],
      138, 696, { size: 58, weight: 'bold', align: 'center', rot: -Math.PI / 2, fitW: 889, sy: 1.12, supScale: 0.62, supRaise: 0.5 });

    rightLegend.forEach(it => {
      drawMarker(ctx, it.style, it.mx, it.my, it.r, it.fill, it.stroke, it.lw);
      rich(ctx, it.parts, it.tx, it.ty, { size: 56, weight: 'bold', color: it.color });
    });
    ctx.restore();
  }
};

new Chart(document.getElementById('right'), {
  type: 'scatter',
  data: { datasets: rightSets },
  options: {
    responsive: false,
    animation: false,
    devicePixelRatio: 1,
    events: [],
    layout: { padding: { left: 275, right: 22, top: 93, bottom: 175 } },
    plugins: { legend: { display: false }, tooltip: { enabled: false } },
    scales: {
      x: { type: 'logarithmic', min: 29, max: 3500, display: false },
      y: { type: 'linear', min: 0, max: 4, display: false }
    }
  },
  plugins: [errorBars, rightDecor]
});
</script>
</body>
</html>
